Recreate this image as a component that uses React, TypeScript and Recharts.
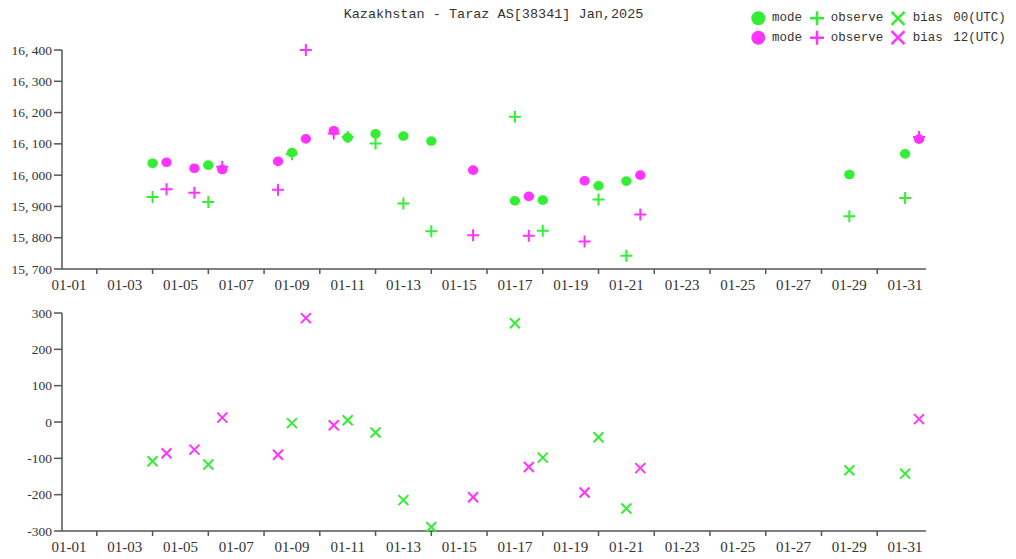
import React from 'react';
import { ScatterChart, Scatter, XAxis, YAxis, Legend } from 'recharts';

// ---------- data ----------
const TITLE = 'Kazakhstan - Taraz AS[38341] Jan,2025';

const days00 = [4, 6, 9, 11, 12, 13, 14, 17, 18, 20, 21, 29, 31];
const mode00 = [16038, 16032, 16072, 16120, 16132, 16125, 16109, 15918, 15920, 15966, 15981, 16002, 16068];
const obs00 = [15930, 15914, 16067, 16122, 16101, 15909, 15821, 16187, 15822, 15922, 15742, 15869, 15927];
const bias00 = [-108, -117, -3, 5, -29, -215, -289, 272, -98, -42, -238, -133, -142];

const days12 = [4, 5, 6, 8, 9, 10, 15, 17, 19, 21, 31];
const mode12 = [16041, 16022, 16018, 16044, 16116, 16142, 16016, 15932, 15982, 16000, 16115];
const obs12 = [15955, 15944, 16027, 15953, 16400, 16133, 15808, 15806, 15788, 15874, 16122];
const bias12 = [-86, -76, 12, -90, 286, -9, -207, -124, -194, -127, 8];

const xDays = Array.from({ length: 31 }, (_, i) => i + 1);
const xTickLabels = ['01-01', '01-03', '01-05', '01-07', '01-09', '01-11', '01-13', '01-15', '01-17', '01-19', '01-21', '01-23', '01-25', '01-27', '01-29', '01-31'];
const topTicks = [15700, 15800, 15900, 16000, 16100, 16200, 16300, 16400];
const biasTicks = [-300, -200, -100, 0, 100, 200, 300];
const X_DOMAIN: [number, number] = [0.75, 31.75];

const legendRows = [
  { label: '00(UTC)', color: '#33ee33' },
  { label: '12(UTC)', color: '#ff33ff' },
];

// ---------- helpers ----------
const GREEN = '#33ee33';
const MAGENTA = '#ff33ff';
const AXIS = '#555';
const TEXT = '#333';
const SERIF = '"Liberation Serif", "Times New Roman", Times, "DejaVu Serif", serif';
const MONO = '"Liberation Mono", "Courier New", monospace';

const build = (days: number[], hour: number, vals: number[]) =>
  days.map((d, i) => ({ x: d + hour / 24, y: vals[i] }));

const top00Mode = build(days00, 0, mode00);
const top00Obs = build(days00, 0, obs00);
const top12Mode = build(days12, 12, mode12);
const top12Obs = build(days12, 12, obs12);
const b00 = build(days00, 0, bias00);
const b12 = build(days12, 12, bias12);

const fmtThousands = (v: number) => {
  const s = String(Math.abs(v));
  const out = s.length > 3 ? s.slice(0, s.length - 3) + ', ' + s.slice(s.length - 3) : s;
  return (v < 0 ? '-' : '') + out;
};

const circleShape = (color: string) => (p: any) => (
  <ellipse cx={p.cx} cy={p.cy} rx={5.2} ry={4.8} fill={color} />
);
const plusShape = (color: string) => (p: any) => (
  <path d={`M${p.cx - 6},${p.cy}H${p.cx + 6}M${p.cx},${p.cy - 6}V${p.cy + 6}`} stroke={color} strokeWidth={2} fill="none" />
);
const xShape = (color: string) => (p: any) => (
  <path d={`M${p.cx - 5},${p.cy - 5}L${p.cx + 5},${p.cy + 5}M${p.cx - 5},${p.cy + 5}L${p.cx + 5},${p.cy - 5}`} stroke={color} strokeWidth={2} fill="none" />
);

const XTick = (props: any) => {
  const { x, y, payload } = props;
  const d = payload.value as number;
  if (d % 2 === 1) {
    const label = xTickLabels[(d - 1) / 2];
    return (
      <text x={x} y={y + 16} textAnchor="middle" dominantBaseline="central" style={{ fontFamily: SERIF, fontSize: 15 }} fill={TEXT}>
        {label}
      </text>
    );
  }
  return <line x1={x} x2={x} y1={y} y2={y + 5} stroke={AXIS} strokeWidth={1.5} />;
};

const YTick = (props: any) => {
  const { x, y, payload, fmt } = props;
  const v = payload.value as number;
  return (
    <text x={x} y={y} textAnchor="end" dominantBaseline="central" style={{ fontFamily: SERIF, fontSize: 13.5 }} fill={TEXT}>
      {fmt ? fmt(v) : String(v)}
    </text>
  );
};

const LegendContent = () => (
  <svg width={276} height={42} style={{ display: 'block' }}>
    {legendRows.map((r, i) => {
      const cy = 10.3 + i * 19.4;
      const t = { style: { fontFamily: MONO, fontSize: 12.5 }, fill: TEXT, dominantBaseline: 'central' as const };
      return (
        <g key={r.label}>
          <circle cx={18.3} cy={cy} r={7} fill={r.color} />
          <text x={32} y={cy} {...t}>mode</text>
          <path d={`M${70},${cy}H${84}M${77},${cy - 7}V${cy + 7}`} stroke={r.color} strokeWidth={2.5} />
          <text x={90.7} y={cy} {...t}>observe</text>
          <path d={`M${151.5},${cy - 6.5}L${164.5},${cy + 6.5}M${151.5},${cy + 6.5}L${164.5},${cy - 6.5}`} stroke={r.color} strokeWidth={2.5} />
          <text x={172.7} y={cy} {...t}>bias</text>
          <text x={213.3} y={cy} {...t}>{r.label}</text>
        </g>
      );
    })}
  </svg>
);

export default function App() {
  return (
    <div style={{ position: 'relative', width: 1000, height: 550 }}>
      <div
        style={{
          position: 'absolute', left: 0, top: -2, width: 971, textAlign: 'center',
          fontFamily: MONO, fontSize: 13.5, lineHeight: '18px', color: TEXT,
        }}
      >
        {TITLE}
      </div>
      <div style={{ position: 'absolute', left: 0, top: 0 }}>
        <ScatterChart width={1000} height={300} margin={{ top: 42, right: 82, bottom: 0, left: 0 }}>
          <XAxis
            dataKey="x" type="number" domain={X_DOMAIN} ticks={xDays} interval={0}
            tick={<XTick />} tickLine={false} tickSize={0} tickMargin={0} height={39}
            axisLine={{ stroke: AXIS, strokeWidth: 1.5 }}
          />
          <YAxis
            dataKey="y" type="number" domain={[15700, 16400]} ticks={topTicks} interval={0}
            tick={<YTick fmt={fmtThousands} />} width={54} tickSize={8} tickMargin={2}
            tickLine={{ stroke: AXIS, strokeWidth: 1.5 }} axisLine={{ stroke: AXIS, strokeWidth: 1.5 }}
          />
          <Legend
            layout="horizontal" verticalAlign="middle" align="center"
            wrapperStyle={{ position: 'absolute', left: 732, top: 0, width: 276, height: 42 }}
            content={() => <LegendContent />}
          />
          <Scatter name="mode 00" data={top00Mode} shape={circleShape(GREEN)} isAnimationActive={false} />
          <Scatter name="observe 00" data={top00Obs} shape={plusShape(GREEN)} isAnimationActive={false} />
          <Scatter name="mode 12" data={top12Mode} shape={circleShape(MAGENTA)} isAnimationActive={false} />
          <Scatter name="observe 12" data={top12Obs} shape={plusShape(MAGENTA)} isAnimationActive={false} />
        </ScatterChart>
      </div>
      <div style={{ position: 'absolute', left: 0, top: 290 }}>
        <ScatterChart width={1000} height={260} margin={{ top: 15, right: 82, bottom: 0, left: 0 }}>
          <XAxis
            dataKey="x" type="number" domain={X_DOMAIN} ticks={xDays} interval={0}
            tick={<XTick />} tickLine={false} tickSize={0} tickMargin={0} height={27}
            axisLine={{ stroke: AXIS, strokeWidth: 1.5 }}
          />
          <YAxis
            dataKey="y" type="number" domain={[-300, 300]} ticks={biasTicks} interval={0}
            tick={<YTick />} width={54} tickSize={8} tickMargin={2}
            tickLine={{ stroke: AXIS, strokeWidth: 1.5 }} axisLine={{ stroke: AXIS, strokeWidth: 1.5 }}
          />
          <Scatter name="bias 00" data={b00} shape={xShape(GREEN)} isAnimationActive={false} />
          <Scatter name="bias 12" data={b12} shape={xShape(MAGENTA)} isAnimationActive={false} />
        </ScatterChart>
      </div>
    </div>
  );
}
